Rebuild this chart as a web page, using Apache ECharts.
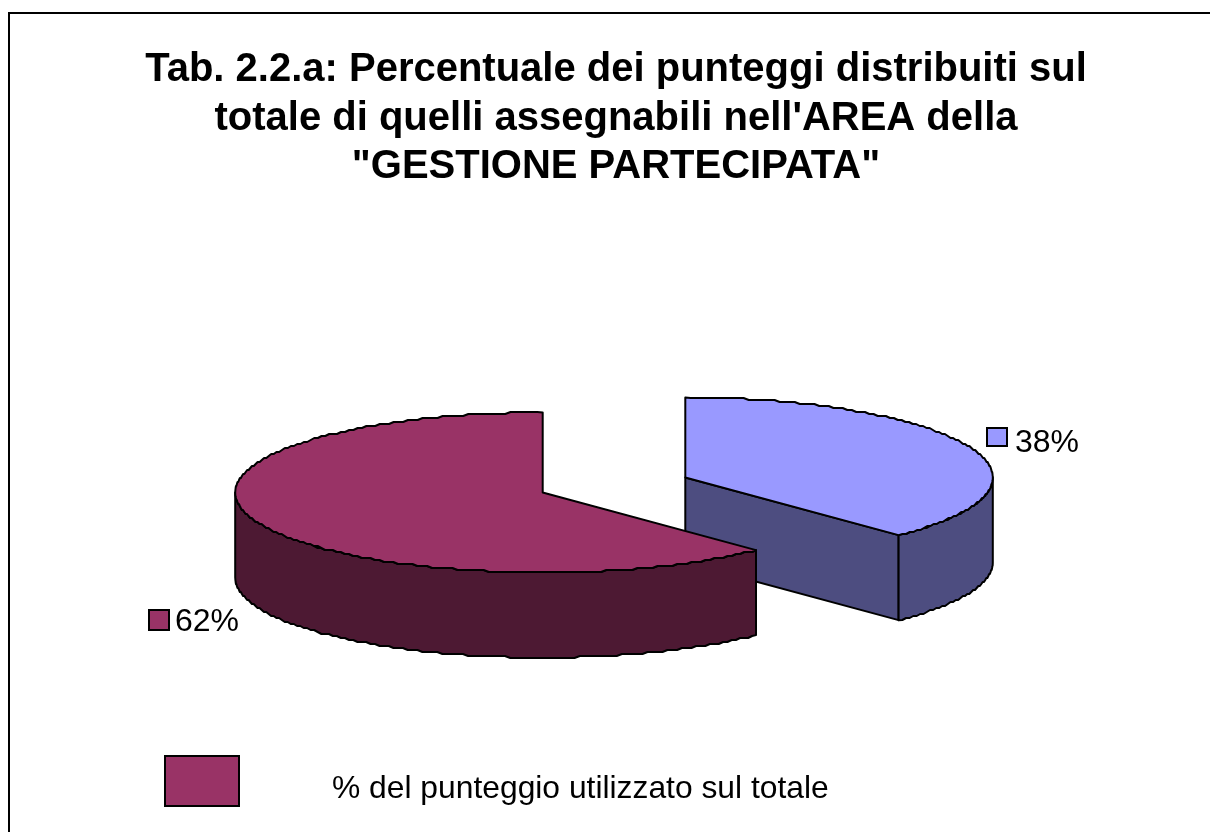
<!DOCTYPE html>
<html><head><meta charset="utf-8">
<style>html,body{margin:0;padding:0;background:#fff}#c{width:1210px;height:832px}</style>
<script src="https://cdn.jsdelivr.net/npm/echarts@6/dist/echarts.min.js"></script>
</head><body><div id="c"></div>
<script>
const titleLines = ["Tab. 2.2.a: Percentuale dei punteggi distribuiti sul","totale di quelli assegnabili nell'AREA della","\"GESTIONE PARTECIPATA\""];
const seriesName = "% del punteggio utilizzato sul totale";
const sliceNames = ["A", "B"];
const sliceValues = [37.8, 62.2];

const topColors = ["#9999FF", "#993366"];
const sideColors = ["#4D4D80", "#4D1933"];
const FONT = '"Liberation Sans", Arial, sans-serif';
const pie = {cx: 614, cy: 485, rx: 307.5, ry: 80, depth: 85, explode: 0.25, grid: 2};
const callouts = [{sx: 987, sy: 428, sw: 20, sh: 18, tx: 1015, ty: 443}, {sx: 149, sy: 610, sw: 20, sh: 20, tx: 175, ty: 622}];

const total = sliceValues.reduce((a, b) => a + b, 0);
const starts = sliceValues.map((v, i) => sliceValues.slice(0, i).reduce((a, b) => a + b, 0) / total * 360);
const rad = d => d * Math.PI / 180;

function renderSlice(params, api) {
  const i = params.dataIndex, val = api.value(0);
  const a0 = starts[i], a1 = a0 + val / total * 360, mid = (a0 + a1) / 2;
  const cx = pie.cx + pie.explode * pie.rx * Math.sin(rad(mid));
  const cy = pie.cy - pie.explode * pie.ry * Math.cos(rad(mid));
  const pt = (a, dy) => [cx + pie.rx * Math.sin(rad(a)), cy - pie.ry * Math.cos(rad(a)) + (dy || 0)];
  // the reference outline is slightly stepped: keep x true and step y only
  const snap = p => [p[0], Math.round(p[1] / pie.grid) * pie.grid];
  const arc = (from, to, dy) => {
    const n = Math.max(2, Math.ceil(Math.abs(to - from))), out = [];
    for (let k = 0; k <= n; k++) {
      const p = pt(from + (to - from) * k / n, dy);
      out.push(k === 0 || k === n ? p : snap(p));
    }
    return out;
  };
  const edge = {stroke: "#000", lineWidth: 2, lineJoin: "round"};
  const poly = (points, fill, z2) => ({type: "polygon", z2, shape: {points}, style: {fill, ...edge}});
  const children = [];
  // radial wall at the end of the slice, visible when the slice ends on the lower right
  if (a1 > 90 && a1 < 180) {
    const end = pt(a1);
    children.push(poly([[cx, cy], end, [end[0], end[1] + pie.depth], [cx, cy + pie.depth]], sideColors[i], 1));
  }
  // rim wall: front half of the ellipse
  const r0 = Math.max(a0, 90), r1 = Math.min(a1, 270);
  if (r1 > r0) {
    children.push(poly(arc(r0, r1, 0).concat(arc(r1, r0, pie.depth)), sideColors[i], 2));
  }
  children.push(poly([[cx, cy]].concat(arc(a0, a1, 0)), topColors[i], 3));
  const c = callouts[i];
  children.push({type: "rect", z2: 4, shape: {x: c.sx, y: c.sy, width: c.sw, height: c.sh},
    style: {fill: topColors[i], stroke: "#000", lineWidth: 2}});
  children.push({type: "text", z2: 4, style: {text: Math.round(val) + "%", x: c.tx, y: c.ty,
    fill: "#000", font: "32px " + FONT, textAlign: "left", textVerticalAlign: "middle"}});
  return {type: "group", children};
}

const chart = echarts.init(document.getElementById("c"), null, {renderer: "canvas"});
chart.setOption({
  animation: false,
  backgroundColor: "#fff",
  title: {
    text: titleLines.join("\n"), left: 616, top: 46, textAlign: "center", padding: 0,
    textStyle: {fontFamily: FONT, fontSize: 40, fontWeight: "bold", color: "#000", lineHeight: 48.5}
  },
  legend: {
    left: 164, top: 755, padding: 0, orient: "horizontal", icon: "rect",
    itemWidth: 74, itemHeight: 50, selectedMode: false,
    itemStyle: {borderColor: "#000", borderWidth: 2},
    data: [seriesName],
    formatter: n => "{t|" + n + "}",
    textStyle: {rich: {t: {fontFamily: FONT, fontSize: 31.8, color: "#000", padding: [16, 0, 0, 88]}}}
  },
  graphic: [{type: "polyline", silent: true, shape: {points: [[9, 832], [9, 13], [1210, 13]]},
    style: {fill: null, stroke: "#000", lineWidth: 2}}],
  series: [{
    type: "custom", name: seriesName, coordinateSystem: "none", silent: true,
    itemStyle: {color: "#993366"},
    renderItem: renderSlice,
    data: sliceValues.map((v, i) => ({name: sliceNames[i], value: [v]}))
  }]
});
</script></body></html>
